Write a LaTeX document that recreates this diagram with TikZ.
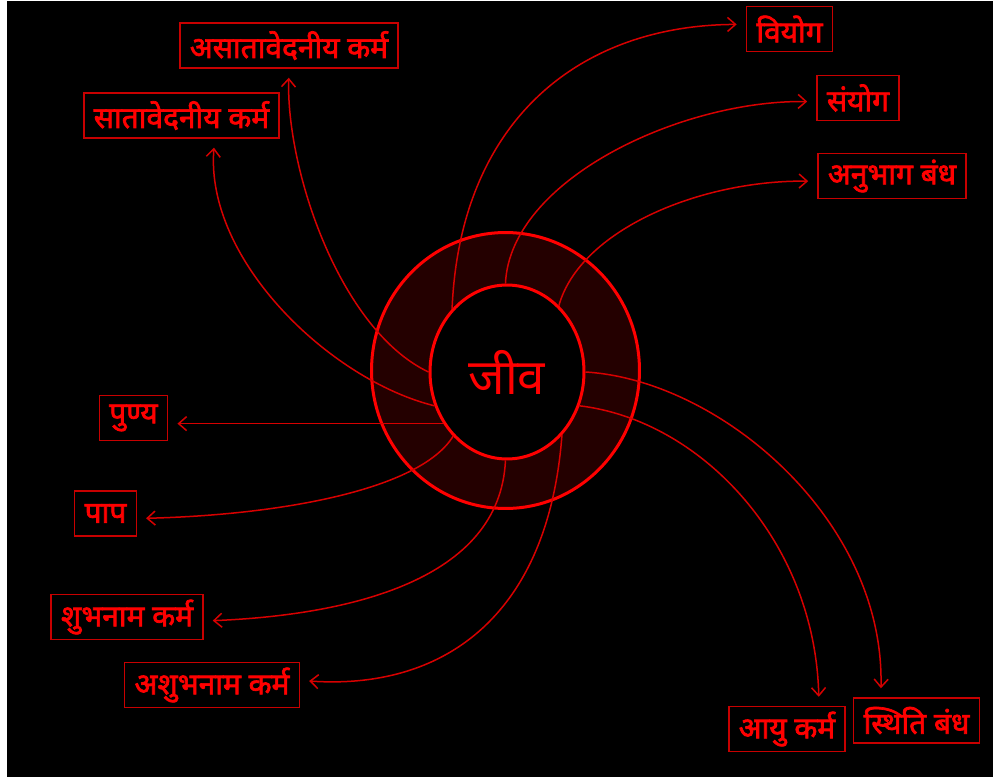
\documentclass[tikz,border=0pt]{standalone}
\usepackage{fontspec}
\newfontfamily\deva[Script=Devanagari]{Noto Sans}
\newfontfamily\devab[Script=Devanagari, FakeBold=2.2]{Noto Sans}
\usetikzlibrary{shapes.geometric, arrows.meta}

\definecolor{ringred}{RGB}{255,0,0}
\definecolor{flowred}{RGB}{215,0,0}
\definecolor{boxred}{RGB}{200,0,0}
\definecolor{ringfill}{RGB}{36,0,0}

\begin{document}
\begin{tikzpicture}[x=0.02cm, y=-0.02cm,
    % Define the style for the boxed labels
    kbox/.style={draw=boxred, line width=0.03cm, text=ringred,
        font=\devab\fontsize{17}{20}\selectfont,
        minimum height=0.9cm, inner xsep=0.2cm, inner ysep=0pt},
    % Define the style for the curved arrows
    flow/.style={draw=flowred, line width=0.03cm,
        -{Straight Barb[length=0.16cm, width=0.28cm]}, shorten >=0.18cm}
]

% Page and black ground
\useasboundingbox (0,0) rectangle (993,777);
\fill[white] (0,0) rectangle (993,777);
\fill[black] (7,1) rectangle (993,777);

% The ring and jiva in the middle
\node[ellipse, draw=ringred, line width=0.06cm, fill=ringfill,
    minimum width=5.36cm, minimum height=5.52cm] (ring) at (505.5,370.5) {};
\node[ellipse, draw=ringred, line width=0.06cm, fill=black, inner sep=0pt,
    minimum width=3.08cm, minimum height=3.48cm, text=ringred,
    font=\deva\fontsize{28}{30}\selectfont] (jiva) at (507,372) {जीव};

% Labels round the ring
\node[kbox] (asatav) at (289,45.5) {असातावेदनीय कर्म};
\node[kbox] (satav) at (181.5,115.5) {सातावेदनीय कर्म};
\node[kbox] (viyog) at (789.5,29) {वियोग};
\node[kbox] (sanyog) at (858,98) {संयोग};
\node[kbox] (anubhag) at (892,176) {अनुभाग बंध};
\node[kbox] (punya) at (133.5,418) {पुण्य};
\node[kbox] (paap) at (105.5,513.5) {पाप};
\node[kbox] (shubh) at (127,617) {शुभनाम कर्म};
\node[kbox] (ashubh) at (212,685) {अशुभनाम कर्म};
\node[kbox] (aayu) at (787,729) {आयु कर्म};
\node[kbox] (sthiti) at (916.5,720.5) {स्थिति बंध};

% Arrows out of jiva
\draw[flow] (jiva.180) .. controls (340,330) and (286,170) .. (asatav.south);
\draw[flow] (jiva.205) .. controls (330,380) and (205,260) .. (satav.325);
\draw[flow] (jiva.219) -- (jiva.219 -| punya.east);
\draw[flow] (jiva.230) .. controls (420,490) and (280,515) .. (paap.351);
\draw[flow] (jiva.269) .. controls (500,580) and (350,615) .. (shubh.357);
\draw[flow] (jiva.311) .. controls (548,620) and (440,690) .. (ashubh.3);
\draw[flow] (jiva.335) .. controls (700,420) and (815,540) .. (aayu.36);
\draw[flow] (jiva.0) .. controls (720,380) and (885,520) .. (sthiti.147);
\draw[flow] (jiva.52) .. controls (580,230) and (700,180) .. (anubhag.184);
\draw[flow] (jiva.91) .. controls (510,180) and (680,100) .. (sanyog.185);
\draw[flow] (jiva.131) .. controls (460,120) and (580,25) .. (viyog.174);

\end{tikzpicture}
\end{document}
